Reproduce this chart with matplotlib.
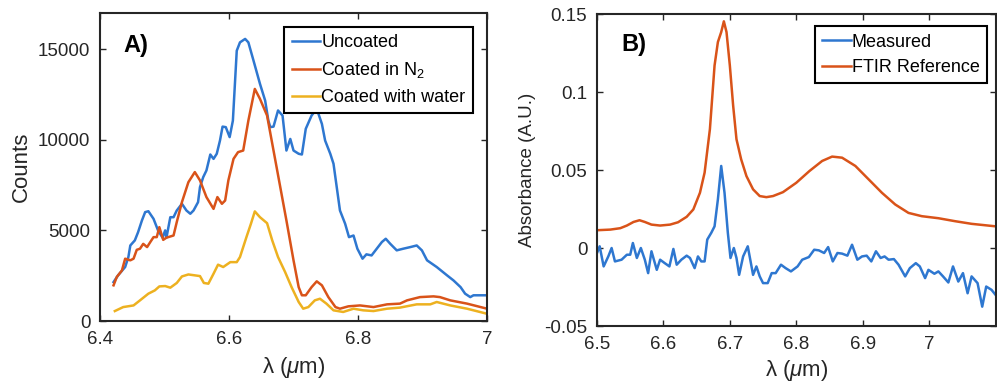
import numpy as np
import matplotlib
matplotlib.use("Agg")
import matplotlib.pyplot as plt

plt.rcParams['font.family'] = ['Liberation Sans', 'DejaVu Sans']
plt.rcParams['mathtext.fontset'] = 'custom'
plt.rcParams['mathtext.rm'] = 'Liberation Sans'
plt.rcParams['mathtext.it'] = 'Liberation Sans:italic'

# ---- panel A: emission counts ----
wl_unc = [6.421, 6.428, 6.439, 6.444, 6.447, 6.454, 6.459, 6.465, 6.470, 6.475, 6.483, 6.490,
          6.497, 6.501, 6.503, 6.509, 6.514, 6.519, 6.527, 6.534, 6.540, 6.545, 6.552, 6.555,
          6.560, 6.565, 6.571, 6.576, 6.581, 6.586, 6.590, 6.595, 6.601, 6.606, 6.612, 6.617,
          6.625, 6.630, 6.638, 6.648, 6.656, 6.661, 6.664, 6.669, 6.676, 6.683, 6.689, 6.695,
          6.700, 6.708, 6.713, 6.719, 6.728, 6.736, 6.744, 6.749, 6.757, 6.762, 6.767, 6.772,
          6.780, 6.786, 6.793, 6.799, 6.807, 6.813, 6.821, 6.829, 6.837, 6.843, 6.850, 6.860,
          6.870, 6.881, 6.891, 6.899, 6.907, 6.922, 6.938, 6.948, 6.959, 6.966, 6.974, 6.979, 7.0]
cnt_unc = [2150, 2520, 2980, 3530, 4170, 4450, 4900, 5550, 6010, 6060, 5640, 5000,
           4600, 5000, 4600, 5730, 5730, 6100, 6470, 6100, 5920, 6100, 6560, 7390,
           7940, 8310, 9190, 8950, 9230, 9960, 10730, 10700, 10150, 11060, 14920, 15380,
           15570, 15380, 14370, 13090, 12170, 11060, 10700, 10730, 11620, 11340, 9410, 10050,
           9410, 9230, 9190, 10610, 11340, 11710, 10880, 9960, 9230, 8680, 7390, 6100,
           5370, 4630, 4720, 3990, 3440, 3680, 3620, 3990, 4360, 4540, 4260, 3900,
           3990, 4080, 4170, 3900, 3350, 2980, 2520, 2240, 1870, 1510, 1320, 1420, 1420]

wl_n2 = [6.421, 6.426, 6.434, 6.439, 6.447, 6.452, 6.457, 6.462, 6.467, 6.473, 6.478, 6.483,
         6.488, 6.492, 6.498, 6.503, 6.514, 6.519, 6.527, 6.537, 6.547, 6.555, 6.565, 6.576,
         6.582, 6.589, 6.594, 6.599, 6.607, 6.614, 6.622, 6.630, 6.640, 6.648, 6.659, 6.669,
         6.679, 6.689, 6.700, 6.708, 6.713, 6.719, 6.728, 6.736, 6.744, 6.754, 6.765, 6.772,
         6.785, 6.803, 6.824, 6.845, 6.865, 6.876, 6.896, 6.917, 6.927, 6.943, 6.969, 7.0]
cnt_n2 = [1970, 2430, 2790, 3440, 3350, 3440, 3930, 3990, 4260, 4080, 4360, 4630,
          4630, 5180, 4480, 4600, 4720, 5460, 6560, 7660, 8220, 7760, 6840, 6190,
          6840, 6470, 6650, 7760, 8950, 9320, 9410, 11060, 12810, 12260, 11340, 9410,
          7480, 5550, 3350, 1870, 1420, 1420, 1870, 2190, 1970, 1320, 770, 680,
          810, 860, 770, 920, 960, 1140, 1320, 1360, 1320, 1140, 960, 680]

wl_wat = [6.423, 6.436, 6.452, 6.462, 6.475, 6.485, 6.492, 6.501, 6.509, 6.519, 6.527, 6.537,
          6.547, 6.555, 6.561, 6.568, 6.576, 6.583, 6.591, 6.602, 6.612, 6.617, 6.627, 6.634,
          6.640, 6.648, 6.659, 6.667, 6.676, 6.687, 6.697, 6.708, 6.715, 6.723, 6.733, 6.741,
          6.751, 6.762, 6.777, 6.793, 6.808, 6.824, 6.845, 6.865, 6.891, 6.912, 6.922, 6.943,
          6.969, 7.0]
cnt_wat = [550, 770, 860, 1140, 1510, 1690, 1910, 1930, 1840, 2100, 2460, 2570,
           2520, 2480, 2100, 2060, 2610, 3110, 2980, 3250, 3250, 3530, 4630, 5370,
           6050, 5730, 5400, 4450, 3530, 2700, 1870, 1050, 680, 770, 1140, 1230,
           960, 590, 500, 680, 590, 550, 680, 740, 920, 920, 1050, 860,
           680, 400]

# ---- panel B: absorbance ----
wl_ftir = [6.500, 6.520, 6.535, 6.545, 6.555, 6.564, 6.572, 6.582, 6.595, 6.610, 6.622, 6.635,
           6.645, 6.655, 6.662, 6.670, 6.677, 6.682, 6.687, 6.691, 6.695, 6.700, 6.705, 6.710,
           6.717, 6.725, 6.735, 6.745, 6.755, 6.765, 6.780, 6.800, 6.820, 6.839, 6.854, 6.869,
           6.889, 6.909, 6.929, 6.949, 6.969, 6.989, 7.014, 7.039, 7.064, 7.100]
abs_ftir = [0.0114, 0.0118, 0.0127, 0.0144, 0.0167, 0.0178, 0.0167, 0.0150, 0.0144, 0.0150, 0.0165, 0.0200,
            0.0247, 0.0354, 0.0483, 0.0762, 0.1170, 0.1320, 0.1384, 0.1453, 0.1384, 0.1170, 0.0912, 0.0697,
            0.0569, 0.0461, 0.0376, 0.0333, 0.0326, 0.0333, 0.0358, 0.0418, 0.0494, 0.0558, 0.0586, 0.0579,
            0.0526, 0.0440, 0.0354, 0.0279, 0.0225, 0.0204, 0.0191, 0.0172, 0.0155, 0.0139]

wl_meas = [6.500, 6.504, 6.510, 6.517, 6.522, 6.527, 6.537, 6.545, 6.550, 6.554, 6.560, 6.566,
           6.572, 6.577, 6.582, 6.590, 6.595, 6.602, 6.609, 6.615, 6.620, 6.627, 6.635, 6.640,
           6.647, 6.652, 6.657, 6.662, 6.666, 6.672, 6.677, 6.682, 6.687, 6.692, 6.697, 6.701,
           6.706, 6.710, 6.714, 6.720, 6.727, 6.735, 6.740, 6.745, 6.750, 6.757, 6.763, 6.769,
           6.777, 6.784, 6.792, 6.802, 6.809, 6.819, 6.827, 6.834, 6.842, 6.848, 6.855, 6.862,
           6.869, 6.877, 6.884, 6.892, 6.899, 6.906, 6.913, 6.920, 6.927, 6.933, 6.939, 6.947,
           6.954, 6.964, 6.971, 6.980, 6.986, 6.994, 6.999, 7.008, 7.014, 7.021, 7.029, 7.036,
           7.044, 7.051, 7.058, 7.064, 7.073, 7.080, 7.086, 7.094, 7.100]
abs_meas = [-0.0032, 0.0011, -0.0118, -0.0054, 0.0000, -0.0086, -0.0075, -0.0043, -0.0043, 0.0032, -0.0064, 0.0000,
            -0.0075, -0.0161, -0.0021, -0.0140, -0.0075, -0.0097, -0.0118, -0.0006, -0.0107, -0.0075, -0.0049, -0.0064,
            -0.0129, -0.0054, -0.0086, -0.0086, 0.0054, 0.0097, 0.0139, 0.0311, 0.0526, 0.0354, 0.0097, -0.0064,
            0.0000, -0.0064, -0.0172, -0.0054, 0.0011, -0.0172, -0.0118, -0.0182, -0.0225, -0.0225, -0.0161, -0.0161,
            -0.0107, -0.0129, -0.0150, -0.0118, -0.0075, -0.0058, -0.0011, -0.0015, -0.0032, 0.0006, -0.0086, -0.0032,
            -0.0036, -0.0049, 0.0021, -0.0075, -0.0054, -0.0049, -0.0086, -0.0021, -0.0064, -0.0054, -0.0075, -0.0071,
            -0.0107, -0.0182, -0.0129, -0.0097, -0.0118, -0.0193, -0.0140, -0.0165, -0.0150, -0.0182, -0.0221, -0.0118,
            -0.0215, -0.0161, -0.0290, -0.0182, -0.0225, -0.0376, -0.0247, -0.0268, -0.0300]

c_blue = '#2E77D0'
c_orange = '#D95319'
c_yellow = '#EDB120'
tick_col = '#262626'
xlab = 'λ (' + r'$\mu$' + 'm)'

fig = plt.figure(figsize=(9.97, 3.87), dpi=100)
ax1 = fig.add_axes([0.1003, 0.1705, 0.3882, 0.7959])
ax2 = fig.add_axes([0.5988, 0.1576, 0.3997, 0.8062])

ax1.plot(wl_unc, cnt_unc, color=c_blue, lw=1.8, label='Uncoated')
ax1.plot(wl_n2, cnt_n2, color=c_orange, lw=1.8, label='Coated in N$_2$')
ax1.plot(wl_wat, cnt_wat, color=c_yellow, lw=1.8, label='Coated with water')
ax1.set_xlim(6.4, 7.0)
ax1.set_ylim(0, 17000)
ax1.set_xticks([6.4, 6.6, 6.8, 7.0])
ax1.set_xticklabels(['6.4', '6.6', '6.8', '7'])
ax1.set_yticks([0, 5000, 10000, 15000])
ax1.set_ylabel('Counts', fontsize=16, color=tick_col, labelpad=4)
ax1.set_xlabel(xlab, fontsize=16, color=tick_col, labelpad=5)
ax1.text(0.06, 0.875, 'A)', transform=ax1.transAxes, fontsize=17, fontweight='bold')
ax1.legend(loc='upper right', fontsize=13, handlelength=1.6, handletextpad=0.05,
           labelspacing=0.5, borderpad=0.4, fancybox=False, edgecolor='black',
           framealpha=1, bbox_to_anchor=(0.963, 0.955), borderaxespad=0)

ax2.plot(wl_meas, abs_meas, color=c_blue, lw=1.8, label='Measured')
ax2.plot(wl_ftir, abs_ftir, color=c_orange, lw=1.8, label='FTIR Reference')
ax2.set_xlim(6.5, 7.1)
ax2.set_ylim(-0.05, 0.15)
ax2.set_xticks([6.5, 6.6, 6.7, 6.8, 6.9, 7.0])
ax2.set_xticklabels(['6.5', '6.6', '6.7', '6.8', '6.9', '7'])
ax2.set_yticks([-0.05, 0, 0.05, 0.1, 0.15])
ax2.set_yticklabels(['-0.05', '0', '0.05', '0.1', '0.15'])
ax2.set_ylabel('Absorbance (A.U.)', fontsize=13.5, color=tick_col, labelpad=6)
ax2.set_xlabel(xlab, fontsize=16, color=tick_col, labelpad=4)
ax2.text(0.06, 0.88, 'B)', transform=ax2.transAxes, fontsize=17, fontweight='bold')
ax2.legend(loc='upper right', fontsize=13, handlelength=1.6, handletextpad=0.05,
           labelspacing=0.45, borderpad=0.4, fancybox=False, edgecolor='black',
           framealpha=1, bbox_to_anchor=(0.978, 0.96), borderaxespad=0)

for ax in (ax1, ax2):
    ax.tick_params(direction='in', top=True, right=True, labelsize=13.5,
                   colors=tick_col, length=4, width=1, pad=7)
    for s in ax.spines.values():
        s.set_linewidth(1.5)
        s.set_color('#262626')
    ax.get_legend().get_frame().set_linewidth(1.5)

fig.savefig('out.png', dpi=100)
